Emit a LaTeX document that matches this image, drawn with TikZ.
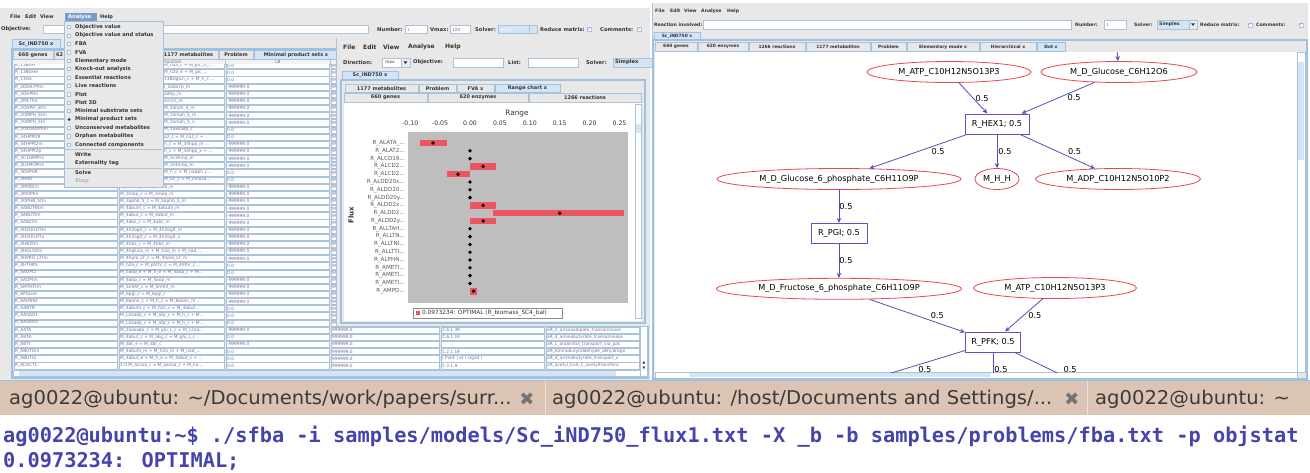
\documentclass[tikz,border=0pt]{standalone}
\usepackage{fontspec}
\setmainfont{DejaVu Sans}
\newfontfamily\termfont{DejaVu Sans Mono}
\newfontfamily\tabfont[FakeStretch=1.03]{DejaVu Sans}
\usepackage{tikz}
\usetikzlibrary{shapes.geometric, positioning, arrows.meta, calc}

\newcommand{\fsz}[1]{\fontsize{#1}{#1}\selectfont}
\newcommand{\trn}{...}

\definecolor{guigray}{HTML}{E8E8E8}
\definecolor{guitext}{HTML}{333333}
\definecolor{cellline}{HTML}{A9C3DD}
\definecolor{celltext}{HTML}{7C6E8E}
\definecolor{panelblue}{HTML}{9EC0E2}
\definecolor{tabblue}{HTML}{D3E4F4}
\definecolor{menuhl}{HTML}{7A9CCB}
\definecolor{metred}{HTML}{E8474F}
\definecolor{reacblue}{HTML}{5B57C2}
\definecolor{edgeblue}{HTML}{5551B8}
\definecolor{plotgray}{HTML}{BEBEBE}
\definecolor{barred}{HTML}{EC5560}
\definecolor{termbar}{HTML}{DBC4B4}
\definecolor{tabtext}{HTML}{3A3A3A}
\definecolor{termtext}{HTML}{4444AC}

\tikzset{
  menutxt/.style={inner sep=0pt, anchor=west, text=guitext, font=\fsz{6}\bfseries},
  tooltxt/.style={inner sep=0pt, anchor=west, text=guitext, font=\fsz{5.2}\bfseries},
  smalltxt/.style={inner sep=0pt, anchor=west, text=guitext, font=\fsz{4.6}\bfseries},
  tabtxt/.style={inner sep=0pt, text=guitext, font=\fsz{5}\bfseries},
  celltxt/.style={inner sep=0pt, anchor=west, text=celltext, font=\fsz{4.3}},
  cell/.style={draw=cellline, fill=white, line width=0.5pt},
  field/.style={draw=cellline, fill=white, line width=0.6pt},
  tabbox/.style={draw=cellline, fill=guigray, line width=0.5pt},
  tabsel/.style={draw=panelblue, fill=tabblue, line width=0.6pt},
  chk/.style={draw=cellline, fill=white, minimum size=4pt, inner sep=0pt, font=\fsz{3.5}, text=reacblue},
  metab/.style={ellipse, draw=metred, line width=0.8pt, fill=white, inner sep=0pt, minimum height=21pt, font=\fsz{8.2}},
  reac/.style={rectangle, draw=reacblue, line width=1pt, fill=white, inner sep=0pt, minimum height=20pt, font=\fsz{8.2}},
  arrow/.style={draw=edgeblue, line width=0.8pt, -{Stealth[length=5pt,width=4.5pt]}},
  weight/.style={inner sep=0pt, font=\fsz{8.2}},
  ticktxt/.style={inner sep=0pt, text=guitext, font=\fsz{6.2}},
  rowtxt/.style={inner sep=0pt, anchor=east, text=black!65, font=\fsz{5.6}},
  termtab/.style={inner sep=0pt, anchor=west, text=tabtext, font=\tabfont\fsz{19}},
  closex/.style={inner sep=0pt, text=black!55, font=\fsz{18}},
  termline/.style={inner sep=0pt, anchor=west, text=termtext, font=\termfont\bfseries\fsz{20.3}}
}

\begin{document}
\begin{tikzpicture}[x=1pt, y=-1pt]
  \useasboundingbox (0,0) rectangle (1310,472);
  \fill[white] (0,0) rectangle (1310,472);

  % Ventana izquierda: modelo completo
  \fill[guigray] (0,8) rectangle (650,380);
  \foreach \w/\xx in {File/10, Edit/25, View/40, Help/100}
    \node[menutxt, font=\fsz{5}\bfseries] at (\xx,17) {\w};
  \fill[menuhl] (65,12.5) rectangle (97,21.5);
  \node[menutxt, font=\fsz{5.2}\bfseries, text=white] at (68,17) {Analyse};

  \node[tooltxt] at (1,29.5) {Objective:};
  \draw[field] (43,25.5) rectangle (368,33.5);
  \node[tooltxt] at (377,29.5) {Number:};
  \draw[field] (405,25.5) rectangle (427,33.5);
  \node[celltxt] at (407,29.5) {1};
  \node[tooltxt] at (430,29.5) {Vmax:};
  \draw[field] (450,25.5) rectangle (470,33.5);
  \node[celltxt] at (452,29.5) {100};
  \node[tooltxt] at (475,29.5) {Solver:};
  \draw[field, fill=tabblue] (498,25.5) rectangle (537,33.5);
  \draw[cellline] (529,25.5) -- (529,33.5);
  \node[celltxt, text=white] at (501,29.5) {MILP};
  \node[tooltxt] at (540,29.5) {Reduce matrix:};
  \node[chk] at (589,29.5) {✓};
  \node[tooltxt] at (600,29.5) {Comments:};
  \node[chk] at (639,29.5) {✓};

  \draw[tabsel] (12,39) rectangle (60,49);
  \node[tabtxt] at (36,44) {Sc\_iND750 x};
  \draw[panelblue, line width=1.2pt] (12,49) rectangle (648,378);

  \foreach \a/\b in {13/53, 54/104, 105/158, 159/218, 219/253}
    \draw[tabbox] (\a,50.5) rectangle (\b,59);
  \node[tabtxt] at (33,55) {660 genes};
  \node[tabtxt, anchor=west] at (56,55) {62};
  \node[tabtxt] at (188.5,55) {1177 metabolites};
  \node[tabtxt] at (236,55) {Problem};
  \draw[tabsel] (254,50.5) rectangle (338,59);
  \node[tabtxt] at (296,55) {Minimal product sets x};

  % cabecera de la tabla
  \fill[white!95!black] (13,59.5) rectangle (640,64.5);
  \foreach \cb in {118, 225, 330, 440, 545}
    \draw[cellline, line width=0.4pt] (\cb,59.5) -- (\cb,64.5);
  \node[inner sep=0pt, text=celltext, font=\fsz{4.3}] at (172,62) {Equation};
  \node[inner sep=0pt, text=celltext, font=\fsz{4.3}] at (278,62) {LB};

  % filas de reacciones
  \begin{scope}
    \clip (13,64.5) rectangle (640,369);
    \foreach \nm/\eq/\lb [count=\i] in {
      R\_13BGH/M\_h2o\_c + M\_glc\_D\_\trn/0.0,
      R\_13BGHe/M\_h2o\_e + M\_glc\_\trn/0.0,
      R\_13GS/13BDglcn\_c + M\_h\_c \trn/0.0,
      R\_2DDA7Ptm/l\_2dda7p\_m/-999999.0,
      R\_2DHPtm/2dhp\_m/-999999.0,
      R\_2MCITm/2mcit\_m/-999999.0,
      R\_2OHPH\_5tm/M\_2ohph\_5\_m/-999999.0,
      R\_2OMPH\_5tm/M\_2omph\_5\_m/-999999.0,
      R\_2OMPH\_5tn/M\_2omph\_5\_n/-999999.0,
      R\_2OXOADPtim/M\_2oxoadp\_c/0.0,
      R\_34HPPOR/o2\_c = M\_co2\_c + \trn/0.0,
      R\_34HPPt2m/h\_c = M\_34hpp\_m \trn/-999999.0,
      R\_34HPPt2p/h\_c + M\_34hpp\_x + \trn/-999999.0,
      R\_3C3HMPtm/M\_3c3hmp\_m/-999999.0,
      R\_3C4MOPtm/M\_3c4mop\_m/-999999.0,
      R\_3DSPHR/M\_h\_c + M\_nadph\_c\trn/0.0,
      R\_3HAO/M\_o2\_c = M\_cmusa\trn/0.0,
      R\_3MOBtm/M\_3mob\_c = M\_3mob\_m/-999999.0,
      R\_3MOPtm/M\_3mop\_c = M\_3mop\_m/-999999.0,
      R\_3OPHB\_5tm/M\_3ophb\_5\_c = M\_3ophb\_5\_m/-999999.0,
      R\_4ABUTNtm/M\_4abutn\_c = M\_4abutn\_m/-999999.0,
      R\_4ABUTtm/M\_4abut\_c = M\_4abut\_m/-999999.0,
      R\_4ABZtm/M\_4abz\_c = M\_4abz\_m/-999999.0,
      R\_4H2OGLTtm/M\_4h2oglt\_c = M\_4h2oglt\_m/-999999.0,
      R\_4H2OGLTtx/M\_4h2oglt\_c = M\_4h2oglt\_x/-999999.0,
      R\_4HBZtm/M\_4hbz\_c = M\_4hbz\_m/-999999.0,
      R\_4HGLSDm/M\_4hglusa\_m + M\_h2o\_m + M\_nad\_\trn/-999999.0,
      R\_4HPRO\_LTtm/M\_4hpro\_LT\_c = M\_4hpro\_LT\_m/-999999.0,
      R\_4HTHRS/M\_h2o\_c + M\_phthr\_c = M\_4hthr\_c \trn/0.0,
      R\_5AOPt2/M\_5aop\_e + M\_h\_e = M\_5aop\_c + M\trn/0.0,
      R\_5AOPtm/M\_5aop\_c = M\_5aop\_m/-999999.0,
      R\_5MTHFtm/M\_5mthf\_c = M\_5mthf\_m/-999999.0,
      R\_6PGLter/M\_6pgl\_c = M\_6pgl\_r/-999999.0,
      R\_8AONNt/M\_8aonn\_c + M\_h\_c = M\_8aonn\_m \trn/-999999.0,
      R\_AABTN/M\_4abutn\_c + M\_h2o\_c = M\_4abut\trn/0.0,
      R\_AASAD1/M\_L2aadp\_c + M\_atp\_c + M\_h\_c + M\trn/0.0,
      R\_AASAD2/M\_L2aadp\_c + M\_atp\_c + M\_h\_c + M\trn/0.0,
      R\_AATA/M\_2oxoadp\_c + M\_glu\_L\_c = M\_L2aa\trn/-999999.0,
      R\_ABTA/M\_4abut\_c + M\_akg\_c = M\_glu\_L\_c \trn/0.0,
      R\_ABTt/M\_abt\_e = M\_abt\_c/-999999.0,
      R\_ABUTDm/M\_4abutn\_m + M\_h2o\_m + M\_nad\_\trn/0.0,
      R\_ABUTt2/M\_4abut\_e + M\_h\_e = M\_4abut\_c + \trn/0.0,
      R\_ACACT1/2.0 M\_accoa\_c = M\_aacoa\_c + M\_co\trn/0.0}
    {
      \pgfmathsetmacro\yy{65.5+(\i-1)*7.15}
      \foreach \ca/\cb in {13/118, 118/225, 225/330, 330/440, 440/545, 545/640}
        \draw[cell] (\ca+1,\yy-3.1) rectangle (\cb-1,\yy+3.1);
      \pgfmathsetmacro\ex{\i<18 ? 164 : 120}
      \node[celltxt] at (15,\yy) {\nm};
      \node[celltxt] at (\ex,\yy) {\eq};
      \node[celltxt] at (227,\yy) {\lb};
      \node[celltxt] at (332,\yy) {999999.0};
    }
    \foreach \ec/\ds [count=\i from 37] in {
      1.2.1.31/aR\_L\_aminoadipate\_semialdehyde\_dehy,
      2.6.1.39/aR\_2\_aminoadipate\_transaminase,
      2.6.1.19/aR\_4\_aminobutyrate\_transaminase,
      /aR\_L\_arabinitol\_transport\_via\_pas,
      1.2.1.19/aR\_Aminobutyraldehyde\_dehydroge,
      ( Put4 ) or ( Uga4 )/aR\_4\_aminobutyrate\_transport\_u,
      2.3.1.9/aR\_acetyl\_CoA\_C\_acetyltransfera}
    {
      \pgfmathsetmacro\yy{65.5+(\i-1)*7.15}
      \node[celltxt] at (442,\yy) {\ec};
      \node[celltxt] at (547,\yy) {\ds};
    }
  \end{scope}

  % barras de desplazamiento
  \draw[field] (13,370) rectangle (640,376.5);
  \fill[tabblue] (19,370.8) rectangle (616,375.7);
  \draw[field] (640,64.5) rectangle (647.5,376.5);
  \fill[guitext] (643.8,361) -- (642.3,363.5) -- (645.3,363.5) -- cycle;
  \fill[guitext] (643.8,369) -- (642.3,366.5) -- (645.3,366.5) -- cycle;

  % Menu desplegable Analyse
  \draw[fill=guigray, draw=panelblue, line width=0.6pt] (64,21.5) rectangle (163,187);
  \foreach \t [count=\i] in {Objective value, Objective value and status, FBA, FVA, Elementary mode, Knock-out analysis, Essential reactions, Live reactions, Plot, Plot 3D, Minimal substrate sets, Minimal product sets, Unconserved metabolites, Orphan metabolites, Connected components}
  {
    \pgfmathsetmacro\yy{27+(\i-1)*8.4}
    \node[tooltxt] at (75,\yy) {\t};
    \ifnum\i=12
      \fill[guitext] (69.1,\yy) circle (1.5);
    \else
      \draw[cellline, fill=white, line width=0.5pt] (67.5,\yy-1.6) rectangle (70.7,\yy+1.6);
    \fi
  }
  \draw[cellline, line width=0.5pt] (65,149.5) -- (162,149.5);
  \node[tooltxt] at (75,154.5) {Write};
  \node[tooltxt] at (75,163) {Externality tag};
  \draw[cellline, line width=0.5pt] (65,168) -- (162,168);
  \node[tooltxt] at (75,173) {Solve};
  \node[tooltxt, text=black!30] at (75,181.5) {Stop};

  % Ventana central: FVA y grafico de rangos
  \fill[guigray] (336,38) rectangle (650,326);
  \draw[cellline, line width=0.6pt] (336,38) -- (336,326) -- (650,326);
  \foreach \w/\xx in {File/343, Edit/363, View/383, Analyse/408, Help/445}
    \node[menutxt] at (\xx,47) {\w};
  \node[tooltxt] at (343,62.5) {Direction:};
  \draw[field] (382,58) rectangle (410,67);
  \node[celltxt, text=guitext] at (385,62.5) {max};
  \draw[cellline, fill=white!92!black] (401,58) rectangle (410,67);
  \fill[guitext] (403.5,61.3) -- (407.5,61.3) -- (405.5,64) -- cycle;
  \node[tooltxt] at (413,62.5) {Objective:};
  \draw[field] (453,58) rectangle (503,67);
  \node[tooltxt] at (508,62.5) {List:};
  \draw[field] (528,58) rectangle (578,67);
  \node[tooltxt] at (586,62.5) {Solver:};
  \draw[field, fill=tabblue] (613,58) rectangle (655,67);
  \node[celltxt, text=guitext, font=\fsz{5.2}\bfseries] at (615,62.5) {Simplex};

  \draw[tabsel] (342,71) rectangle (398,80);
  \node[tabtxt] at (370,75.5) {Sc\_iND750 x};
  \draw[panelblue, line width=1.5pt] (341,80) rectangle (645,323);
  \foreach \t/\a/\b in {1177 metabolites/345/418, Problem/419/456, FVA x/457/494}
  {
    \draw[tabbox] (\a,84) rectangle (\b,92.5);
    \node[tabtxt] at ({(\a+\b)/2},88.3) {\t};
  }
  \draw[tabsel] (495,84) rectangle (560,92.5);
  \node[tabtxt] at (527.5,88.3) {Range chart x};
  \foreach \t/\a/\b in {660 genes/344/427, 620 enzymes/428/528, 1266 reactions/529/641}
  {
    \draw[tabbox] (\a,93) rectangle (\b,102);
    \node[tabtxt] at ({(\a+\b)/2},97.5) {\t};
  }
  \fill[white] (344,102.5) rectangle (642,321);
  \draw[field] (635,104) rectangle (641.5,318);
  \fill[tabblue] (635.6,124) rectangle (640.9,133);

  % grafico de rangos
  \fill[plotgray] (408,132) rectangle (628,303);
  \node[inner sep=0pt, text=guitext, font=\fsz{7.4}] at (517,113.5) {Range};
  \foreach \v in {-0.10,-0.05,0.00,0.05,0.10,0.15,0.20,0.25}
    \node[ticktxt] at ({470+598*(\v)},123) {\v};
  \node[inner sep=0pt, rotate=90, text=guitext, font=\fsz{7}\bfseries] at (351,215) {Flux};
  \foreach \lo/\hi/\r in {-0.083/-0.039/1, 0.0/0.043/4, -0.038/0.0/5, 0.0/0.043/9, 0.038/0.257/10, 0.0/0.043/11}
    \fill[barred] ({470+598*(\lo)},{143+(\r-1)*7.8-3.2}) rectangle ({470+598*(\hi)},{143+(\r-1)*7.8+3.2});
  \fill[barred] (470,288) rectangle (477,295);
  \foreach \lbl/\dt [count=\i] in {R\_ALATA\_\trn/-0.062, R\_ALAT2\trn/0, R\_ALCD19\trn/0, R\_ALCD2\trn/0.022, R\_ALCD2\trn/-0.02, R\_ALDD20x\trn/0, R\_ALDD20\trn/0, R\_ALDD20y\trn/0, R\_ALDD2x\trn/0.022, R\_ALDD2\trn/0.15, R\_ALDD2y\trn/0.022, R\_ALLTAH\trn/0, R\_ALLTN\trn/0, R\_ALLTNI\trn/0, R\_ALLTTI\trn/0, R\_ALPHN\trn/0, R\_AMETI\trn/0, R\_AMETI\trn/0, R\_AMETI\trn/0, R\_AMPD\trn/0.006}
  {
    \pgfmathsetmacro\yy{143+(\i-1)*7.8}
    \node[rowtxt] at (405,\yy) {\lbl};
    \fill[black] ({470+598*(\dt)},\yy) circle (1.9);
  }
  \draw[black!45, fill=white, line width=0.5pt] (413,308) rectangle (562,318.5);
  \fill[barred] (416,311) rectangle (420,315);
  \node[inner sep=0pt, anchor=west, text=guitext, font=\fsz{5.8}] at (422,313.3) {0.0973234: OPTIMAL (R\_biomass\_SC4\_bal)};

  % Ventana derecha: vista Dot de un modo elemental
  \fill[guigray] (652,3) rectangle (1308,380);
  \draw[cellline, line width=0.6pt] (652,3) -- (652,380);
  \foreach \w/\xx in {File/655, Edit/670, View/684, Analyse/701, Help/727}
    \node[smalltxt] at (\xx,11) {\w};
  \node[smalltxt] at (654,24.5) {Reaction involved:};
  \draw[field] (703,20.5) rectangle (1071,29);
  \node[smalltxt] at (1075,24.5) {Number:};
  \draw[field] (1104,20.5) rectangle (1126,29);
  \node[celltxt] at (1106,24.7) {1};
  \node[smalltxt] at (1134,24.5) {Solver:};
  \draw[field, fill=tabblue] (1157,20.5) rectangle (1197,29);
  \node[celltxt, text=guitext, font=\fsz{4.6}\bfseries] at (1159,24.7) {Simplex};
  \draw[cellline, fill=white!92!black] (1189,20.5) rectangle (1197,29);
  \fill[guitext] (1191,23.3) -- (1195,23.3) -- (1193,26) -- cycle;
  \node[smalltxt] at (1200,24.5) {Reduce matrix:};
  \node[chk] at (1250,24.7) {✓};
  \node[smalltxt] at (1256,24.5) {Comments:};
  \node[chk] at (1301,24.7) {✓};

  \draw[tabsel] (654,32) rectangle (700,40);
  \node[tabtxt, font=\fsz{4.4}\bfseries] at (677,36) {Sc\_iND750 x};
  \draw[panelblue, line width=1.2pt] (653,40) rectangle (1307,379);
  \foreach \t/\a/\b in {660 genes/655/697, 620 enzymes/698/748, 1266 reactions/749/805, 1177 metabolites/806/870, Problem/871/906, Elementary mode x/907/979, Hierarchical x/980/1036}
  {
    \draw[tabbox] (\a,42.5) rectangle (\b,51);
    \node[tabtxt, font=\fsz{4.4}\bfseries] at ({(\a+\b)/2},46.8) {\t};
  }
  \draw[tabsel] (1037,42.5) rectangle (1065,51);
  \node[tabtxt, font=\fsz{4.4}\bfseries] at (1051,46.8) {Dot x};
  \fill[white] (655,52) rectangle (1297,372);
  \draw[field] (1297,52) rectangle (1305,372);
  \fill[tabblue] (1298,62) rectangle (1304,160);
  \draw[field] (655,372) rectangle (1297,378);
  \fill[tabblue] (690,372.7) rectangle (990,377.3);

  \begin{scope}
    \clip (655,52) rectangle (1297,372);
    \node (atpa) [metab, minimum width=164pt] at (949,72) {M\_ATP\_C10H12N5O13P3};
    \node (glc) [metab, minimum width=156pt] at (1119,72) {M\_D\_Glucose\_C6H12O6};
    \node (hex) [reac, minimum width=64pt] at (997,124) {R\_HEX1; 0.5};
    \node (g6p) [metab, minimum width=244pt] at (839,179) {M\_D\_Glucose\_6\_phosphate\_C6H11O9P};
    \node (hh) [metab, minimum width=44pt] at (997,179) {M\_H\_H};
    \node (adp) [metab, minimum width=165pt] at (1118,179) {M\_ADP\_C10H12N5O10P2};
    \node (pgi) [reac, minimum width=56pt, below=33pt of g6p] {R\_PGI; 0.5};
    \node (f6p) [metab, minimum width=245pt, below=34pt of pgi] {M\_D\_Fructose\_6\_phosphate\_C6H11O9P};
    \node (atpb) [metab, minimum width=163pt] at (1055,288) {M\_ATP\_C10H12N5O13P3};
    \node (pfk) [reac, minimum width=55pt] at (993,342) {R\_PFK; 0.5};
    \coordinate (glcin) at (1117,50);
    \coordinate (pfkl) at (829,392);
    \coordinate (pfkm) at (993,392);
    \coordinate (pfkr) at (1097,392);

    \draw [arrow] (glcin) -- (glc);
    \draw [arrow] (atpa) -- node[weight, xshift=9] {0.5} (hex);
    \draw [arrow] (glc) -- node[weight, xshift=16] {0.5} (hex);
    \draw [arrow] (hex) -- node[weight, xshift=20] {0.5} (g6p);
    \draw [arrow] (hex) -- node[weight, xshift=8] {0.5} (hh);
    \draw [arrow] (hex) -- node[weight, xshift=17] {0.5} (adp);
    \draw [arrow] (g6p) -- node[weight, xshift=7] {0.5} (pgi);
    \draw [arrow] (pgi) -- node[weight, xshift=7] {0.5} (f6p);
    \draw [arrow] (f6p) -- node[weight, xshift=20] {0.5} (pfk);
    \draw [arrow] (atpb) -- node[weight, xshift=11] {0.5} (pfk);
    \draw [arrow] (pfk) -- node[weight, pos=0.45, xshift=21] {0.5} (pfkl);
    \draw [arrow] (pfk) -- node[weight, pos=0.43, xshift=8] {0.5} (pfkm);
    \draw [arrow] (pfk) -- node[weight, pos=0.43, xshift=20] {0.5} (pfkr);
  \end{scope}

  % Terminal
  \fill[termbar] (0,381) rectangle (1310,415);
  \draw[panelblue, line width=0.8pt] (0,380.5) -- (1310,380.5);
  \draw[white!55!termbar, line width=1pt] (545,381) -- (545,415);
  \draw[white!55!termbar, line width=1pt] (1087,381) -- (1087,415);
  \node[termtab] (tab1) at (9,399.5) {ag0022@ubuntu: \textasciitilde/Documents/work/papers/surr...};
  \node[closex] at (527,399.5) {✖};
  \node[termtab] (tab2) at (552,399.5) {ag0022@ubuntu: /host/Documents and Settings/...};
  \node[closex] at (1072,399.5) {✖};
  \node[termtab] (tab3) at (1095,399.5) {ag0022@ubuntu: \textasciitilde};
  \node[termline] (cmd) at (3,437) {ag0022@ubuntu:\textasciitilde\$ ./sfba -i samples/models/Sc\_iND750\_flux1.txt -X \_b -b samples/problems/fba.txt -p objstat};
  \node[termline] (res) at (3,461) {0.0973234: OPTIMAL;};
\end{tikzpicture}
\end{document}
